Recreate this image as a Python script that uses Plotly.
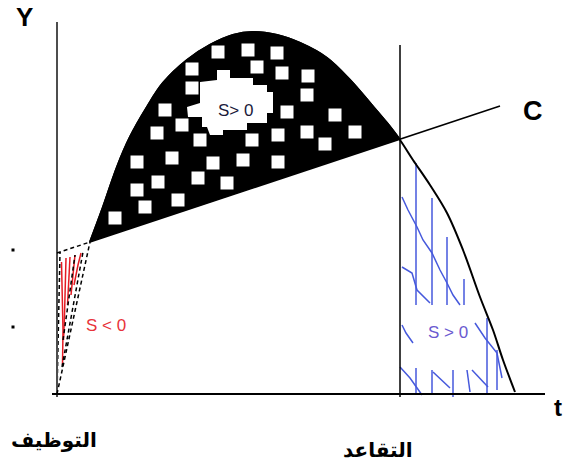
import plotly.graph_objects as go

# ---- data (conceptual life-cycle diagram, arbitrary units) ----
# income curve Y before retirement (starts where it meets C)
income_t_pre = [3.3, 4.6, 6.0, 7.3, 9.0, 10.6, 13.0, 15.3, 17.6, 19.6, 22.0, 24.3, 27.0, 29.3, 31.3, 33.0, 34.3]
income_y_pre = [15.2, 18.7, 22.7, 25.7, 28.7, 31.1, 33.4, 34.9, 35.9, 36.2, 35.9, 35.1, 33.6, 31.4, 29.1, 27.1, 25.4]
# income after retirement
income_t_post = [34.3, 35.6, 37.3, 39.0, 40.6, 42.3, 43.6, 44.6, 45.8]
income_y_post = [25.4, 23.4, 20.9, 18.1, 14.4, 9.7, 6.4, 3.4, 0.2]
# early segment from hiring to crossing point
income_t_start = [0.0, 3.3]
income_y_start = [0.0, 15.2]

# consumption line C
cons_t = [0.0, 3.3, 44.3]
cons_y = [14.1, 15.2, 28.8]

hire_t = 0.0
retire_t = 34.3
axis_t_end = 48.8
axis_y_top = 37.2
retire_line_top = 34.9

# white squares pattern in the saving area
sq_t = [16.1, 19.1, 22.0, 13.5, 20.0, 22.5, 25.1, 13.5, 25.0, 10.8, 23.0, 27.8, 10.0, 12.5, 25.0, 29.8,
        26.8, 14.3, 19.5, 22.1, 8.0, 11.5, 15.6, 18.6, 22.1, 8.0, 10.1, 14.1, 17.0, 8.8, 12.1, 5.8]
sq_y = [34.2, 34.4, 34.1, 32.5, 32.7, 32.1, 31.8, 30.6, 29.9, 28.4, 28.2, 27.9, 26.1, 26.9, 26.2, 26.2,
        25.0, 25.4, 25.4, 25.9, 23.2, 23.6, 23.1, 23.4, 23.2, 20.4, 21.2, 21.6, 21.1, 18.7, 19.4, 17.6]
# white blob behind the label
blob_t = [16.0, 17.3, 17.3, 19.6, 19.6, 21.0, 21.0, 21.6, 21.6, 21.0, 21.0, 19.0, 19.0, 16.6, 16.6, 15.3,
          15.0, 14.5, 14.5, 13.1, 13.0, 14.3, 14.3, 16.0]
blob_y = [32.4, 32.4, 31.6, 31.6, 30.9, 30.9, 30.2, 30.2, 28.1, 28.1, 27.1, 27.1, 26.4, 26.4, 25.9, 25.9,
          26.7, 26.7, 27.7, 27.7, 28.7, 29.1, 31.2, 31.4]

# red hatch strokes (dissaving triangle)
red_t = [0.45, 0.5, 0.6, 0.55, None, 0.9, 0.85, 0.75, 0.65, None, 1.3, 1.2, 1.05, None,
         1.8, 1.6, 1.4, None, 2.4, 2.1, 1.7]
red_y = [13.2, 9.4, 6.4, 2.9, None, 13.6, 10.9, 7.9, 5.4, None, 13.7, 11.4, 8.9, None,
         13.9, 11.9, 9.9, None, 14.1, 12.9, 10.9]
# dashed guide lines in the triangle
dash_t = [0.0, 0.3, None, 0.5, 2.6, None, 0.6, 1.8]
dash_y = [0.0, 14.2, None, 2.7, 14.2, None, 5.4, 13.9]

# blue hatch strokes (retirement dissaving)
blue_t = [35.9, 35.9, None, 37.5, 37.5, None, 39.0, 39.0, None, 40.7, 40.7, None,
          34.5, 35.1, 36.0, 36.6, 37.5, 38.3, 39.0, 39.6, 40.3, None,
          34.5, 35.5, 36.0, 37.3, None,
          34.5, 34.9, 35.6, None,
          34.3, 35.3, 36.5, None,
          35.9, 35.9, None, 37.5, 37.5, None, 37.6, 39.3, None, 39.6, 39.6, None,
          41.0, 41.3, None, 41.5, 43.1, None, 43.0, 43.0, None,
          41.8, 42.8, 44.0, 44.5, None, 44.0, 44.0]
blue_y = [23.1, 8.9, None, 19.6, 8.9, None, 15.7, 8.9, None, 11.5, 8.9, None,
          19.7, 18.4, 16.7, 15.4, 14.1, 12.4, 11.1, 9.9, 8.9, None,
          12.7, 12.1, 10.4, 9.1, None,
          6.9, 6.1, 5.1, None,
          2.7, 1.6, -0.1, None,
          2.6, -0.1, None, 2.4, -0.1, None, 2.2, 0.6, None, 2.4, -0.3, None,
          2.4, 0.2, None, 2.4, 0.7, None, 7.6, -0.1, None,
          7.1, 5.6, 4.1, 1.6, None, 4.4, 0.4]

dots_t = [-4.4, -4.4]
dots_y = [14.4, 6.7]

fig = go.Figure()

# saving area between Y and C (filled black)
c_at_retire = cons_y[1] + (cons_y[2] - cons_y[1]) * (retire_t - cons_t[1]) / (cons_t[2] - cons_t[1])
fig.add_trace(go.Scatter(x=[cons_t[1], retire_t], y=[cons_y[1], c_at_retire],
                         mode="lines", line=dict(width=0, color="black"), hoverinfo="skip"))
fig.add_trace(go.Scatter(x=income_t_pre, y=income_y_pre, mode="lines", fill="tonexty", fillcolor="black",
                         line=dict(color="black", width=2, shape="spline"), hoverinfo="skip"))
# white pattern
fig.add_trace(go.Scatter(x=blob_t, y=blob_y, mode="lines", fill="toself", fillcolor="white",
                         line=dict(width=0, color="white"), hoverinfo="skip"))
fig.add_trace(go.Scatter(x=sq_t, y=sq_y, mode="markers",
                         marker=dict(symbol="square", size=13, color="white", line=dict(width=0)), hoverinfo="skip"))

# hatching
fig.add_trace(go.Scatter(x=red_t, y=red_y, mode="lines", line=dict(color="#e41b23", width=1.5), hoverinfo="skip"))
fig.add_trace(go.Scatter(x=dash_t, y=dash_y, mode="lines", line=dict(color="black", width=1.5, dash="4px,3px"), hoverinfo="skip"))
fig.add_trace(go.Scatter(x=blue_t, y=blue_y, mode="lines", line=dict(color="#4659dc", width=1.5), hoverinfo="skip"))

# axes drawn as lines
fig.add_trace(go.Scatter(x=[hire_t, hire_t], y=[-0.3, axis_y_top], mode="lines", line=dict(color="#4d4d4d", width=2), hoverinfo="skip"))
fig.add_trace(go.Scatter(x=[-0.5, axis_t_end], y=[0, 0], mode="lines", line=dict(color="black", width=2), hoverinfo="skip"))
fig.add_trace(go.Scatter(x=[retire_t, retire_t], y=[-0.3, retire_line_top], mode="lines", line=dict(color="black", width=1.5), hoverinfo="skip"))

# consumption line
fig.add_trace(go.Scatter(x=cons_t[:2], y=cons_y[:2], mode="lines", line=dict(color="black", width=1.5, dash="4px,3px"), hoverinfo="skip"))
fig.add_trace(go.Scatter(x=cons_t[1:], y=cons_y[1:], mode="lines", line=dict(color="black", width=1.5), hoverinfo="skip"))

# income curve
fig.add_trace(go.Scatter(x=income_t_start, y=income_y_start, mode="lines", line=dict(color="black", width=1.5, dash="4px,3px"), hoverinfo="skip"))
fig.add_trace(go.Scatter(x=income_t_pre + income_t_post[1:], y=income_y_pre + income_y_post[1:], mode="lines",
                         line=dict(color="black", width=2, shape="spline"), hoverinfo="skip"))

fig.add_trace(go.Scatter(x=dots_t, y=dots_y, mode="markers", marker=dict(symbol="square", size=3, color="black"), hoverinfo="skip"))

ann = [
    dict(x=-3.3, y=37.7, text="<b>Y</b>", font=dict(size=26, color="black", family="Liberation Sans, Arial")),
    dict(x=47.6, y=28.3, text="<b>C</b>", font=dict(size=27, color="black", family="Liberation Sans, Arial")),
    dict(x=50.1, y=-1.3, text="<b>t</b>", font=dict(size=24, color="black", family="Liberation Sans, Arial")),
    dict(x=17.8, y=28.4, text="S> 0", font=dict(size=17, color="#1a1a3a", family="Liberation Sans, Arial")),
    dict(x=4.9, y=6.9, text="S &lt; 0", font=dict(size=17, color="#e8333a", family="Liberation Sans, Arial")),
    dict(x=39.1, y=6.2, text="S &gt; 0", font=dict(size=17, color="#6a5ad0", family="Liberation Sans, Arial")),
    dict(x=-0.3, y=-4.6, text="<b>التوظيف</b>", font=dict(size=20, color="black", family="DejaVu Sans")),
    dict(x=32.1, y=-5.6, text="<b>التقاعد</b>", font=dict(size=20, color="black", family="DejaVu Sans")),
]
for a in ann:
    a.update(xref="x", yref="y", showarrow=False, xanchor="center", yanchor="middle")

fig.update_layout(
    width=563, height=466,
    margin=dict(l=0, r=0, t=0, b=0),
    paper_bgcolor="white", plot_bgcolor="white",
    showlegend=False,
    annotations=ann,
    xaxis=dict(range=[-5.7, 50.6], visible=False, fixedrange=True),
    yaxis=dict(range=[-7.2, 39.4], visible=False, fixedrange=True),
)

fig.write_html("out.html", config={"displayModeBar": False},
               post_script="document.body.style.margin='0';document.body.style.overflow='hidden';")
